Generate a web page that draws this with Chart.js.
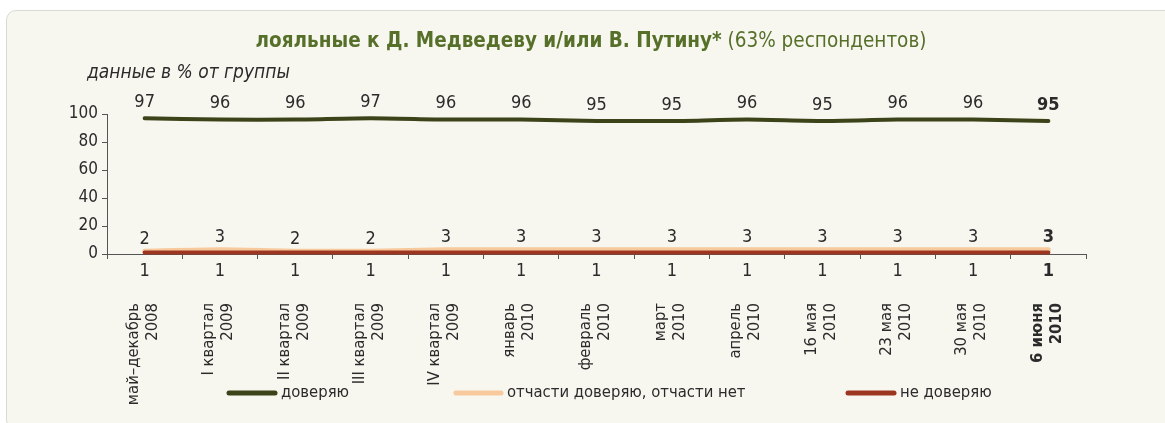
<!DOCTYPE html>
<html>
<head>
<meta charset="utf-8">
<script src="https://cdn.jsdelivr.net/npm/chart.js@4.4.1/dist/chart.umd.min.js"></script>
<style>
  html, body { margin: 0; padding: 0; background: #ffffff; width: 1165px; height: 423px; overflow: hidden; }
  #panel { position: absolute; left: 6px; top: 10px; width: 1170px; height: 420px;
           background: #f7f6ef; border: 1px solid #dadad5; border-radius: 10px; box-sizing: border-box; }
  #c { position: absolute; left: 0; top: 0; }
</style>
</head>
<body>
<div id="panel"></div>
<canvas id="c" width="1165" height="423"></canvas>
<script>
// ---- data ----
const categories = [
  ["май–декабрь", "2008"],
  ["I квартал", "2009"],
  ["II квартал", "2009"],
  ["III квартал", "2009"],
  ["IV квартал", "2009"],
  ["январь", "2010"],
  ["февраль", "2010"],
  ["март", "2010"],
  ["апрель", "2010"],
  ["16 мая", "2010"],
  ["23 мая", "2010"],
  ["30 мая", "2010"],
  ["6 июня", "2010"]
];
const trustValues    = [97, 96, 96, 97, 96, 96, 95, 95, 96, 95, 96, 96, 95];
const partlyValues   = [2, 3, 2, 2, 3, 3, 3, 3, 3, 3, 3, 3, 3];
const distrustValues = [1, 1, 1, 1, 1, 1, 1, 1, 1, 1, 1, 1, 1];
const seriesNames = ["доверяю", "отчасти доверяю, отчасти нет", "не доверяю"];
const yTicks = [0, 20, 40, 60, 80, 100];
const titleBold = "лояльные к Д. Медведеву и/или В. Путину*";
const titleNormal = " (63% респондентов)";
const subtitleText = "данные в % от группы";

// ---- style ----
const FONT = '"Liberation Sans Narrow", "DejaVu Sans Condensed", "Roboto Condensed", "Open Sans", sans-serif';
const TEXT = '#2b2b2b';
const COLORS = ['#3c4318', '#f8c99c', '#9c3620'];
const WIDTHS = [4, 5, 4];
const ORDERS = [1, 2, 0];
const lastIdx = categories.length - 1;

const overlay = {
  id: 'overlay',
  afterDraw(chart) {
    const ctx = chart.ctx;
    const ys = chart.scales.y;
    ctx.save();
    // title
    ctx.textBaseline = 'alphabetic';
    const TS = 20.5;
    ctx.font = 'bold ' + TS + 'px ' + FONT;
    const wB = ctx.measureText(titleBold).width;
    ctx.font = TS + 'px ' + FONT;
    const wN = ctx.measureText(titleNormal).width;
    const tx = 591 - (wB + wN) / 2;
    ctx.fillStyle = '#56702a';
    ctx.font = 'bold ' + TS + 'px ' + FONT;
    ctx.textAlign = 'left';
    ctx.fillText(titleBold, tx, 47);
    ctx.font = TS + 'px ' + FONT;
    ctx.fillText(titleNormal, tx + wB, 47);
    // subtitle
    ctx.fillStyle = TEXT;
    ctx.font = 'italic 19px ' + FONT;
    ctx.fillText(subtitleText, 87, 78);

    // data labels
    ctx.textAlign = 'center';
    ctx.textBaseline = 'middle';
    chart.data.datasets.forEach((ds, di) => {
      const meta = chart.getDatasetMeta(di);
      meta.data.forEach((pt, i) => {
        const bold = i === lastIdx;
        ctx.font = (bold ? 'bold ' : '') + '18px ' + FONT;
        ctx.fillStyle = TEXT;
        let y;
        if (di === 0) y = pt.y - 16;
        else if (di === 1) y = pt.y - 12;
        else y = ys.bottom + 17;
        ctx.fillText(String(ds.data[i]), pt.x, y);
      });
    });

    // legend
    const legendItems = [
      { x1: 229, x2: 275 },
      { x1: 456, x2: 501 },
      { x1: 848, x2: 894 }
    ];
    const ly = 393;
    ctx.textAlign = 'left';
    ctx.font = '16.5px ' + FONT;
    legendItems.forEach((li, i) => {
      ctx.strokeStyle = COLORS[i];
      ctx.lineWidth = 5;
      ctx.lineCap = 'round';
      ctx.beginPath();
      ctx.moveTo(li.x1, ly);
      ctx.lineTo(li.x2, ly);
      ctx.stroke();
      ctx.fillStyle = TEXT;
      ctx.fillText(seriesNames[i], li.x2 + 6, ly);
    });
    ctx.restore();
  }
};

const mk = (i, data) => ({
  label: seriesNames[i],
  data: data,
  order: ORDERS[i],
  borderColor: COLORS[i],
  backgroundColor: COLORS[i],
  borderWidth: WIDTHS[i],
  borderCapStyle: 'round',
  borderJoinStyle: 'round',
  pointRadius: 0,
  tension: 0.2,
  fill: false,
  clip: false
});

new Chart(document.getElementById('c'), {
  type: 'line',
  data: {
    labels: categories,
    datasets: [mk(0, trustValues), mk(1, partlyValues), mk(2, distrustValues)]
  },
  options: {
    responsive: false,
    devicePixelRatio: 1,
    animation: false,
    layout: { padding: { left: 0, right: 79, top: 114, bottom: 0 } },
    plugins: { legend: { display: false }, tooltip: { enabled: false }, title: { display: false } },
    scales: {
      x: {
        type: 'category',
        offset: true,
        grid: { offset: true, drawOnChartArea: false, drawTicks: true, tickLength: 5, color: '#555' },
        border: { display: true, color: '#555', width: 1 },
        ticks: {
          autoSkip: false,
          maxRotation: 90,
          minRotation: 90,
          padding: 44,
          labelOffset: -11,
          color: TEXT,
          font: (c) => ({ family: FONT, size: 16.5, weight: c.index === lastIdx ? 'bold' : 'normal', lineHeight: 1.15 })
        },
        afterFit: (s) => { s.height = 169; }
      },
      y: {
        min: 0, max: 100,
        afterBuildTicks: (s) => { s.ticks = yTicks.map(v => ({ value: v })); },
        grid: { drawOnChartArea: false, drawTicks: true, tickLength: 5, color: '#555' },
        border: { display: true, color: '#555', width: 1 },
        ticks: { padding: 4, color: TEXT, font: { family: FONT, size: 17 } },
        afterFit: (s) => { s.width = 107; }
      }
    }
  },
  plugins: [overlay]
});
</script>
</body>
</html>
